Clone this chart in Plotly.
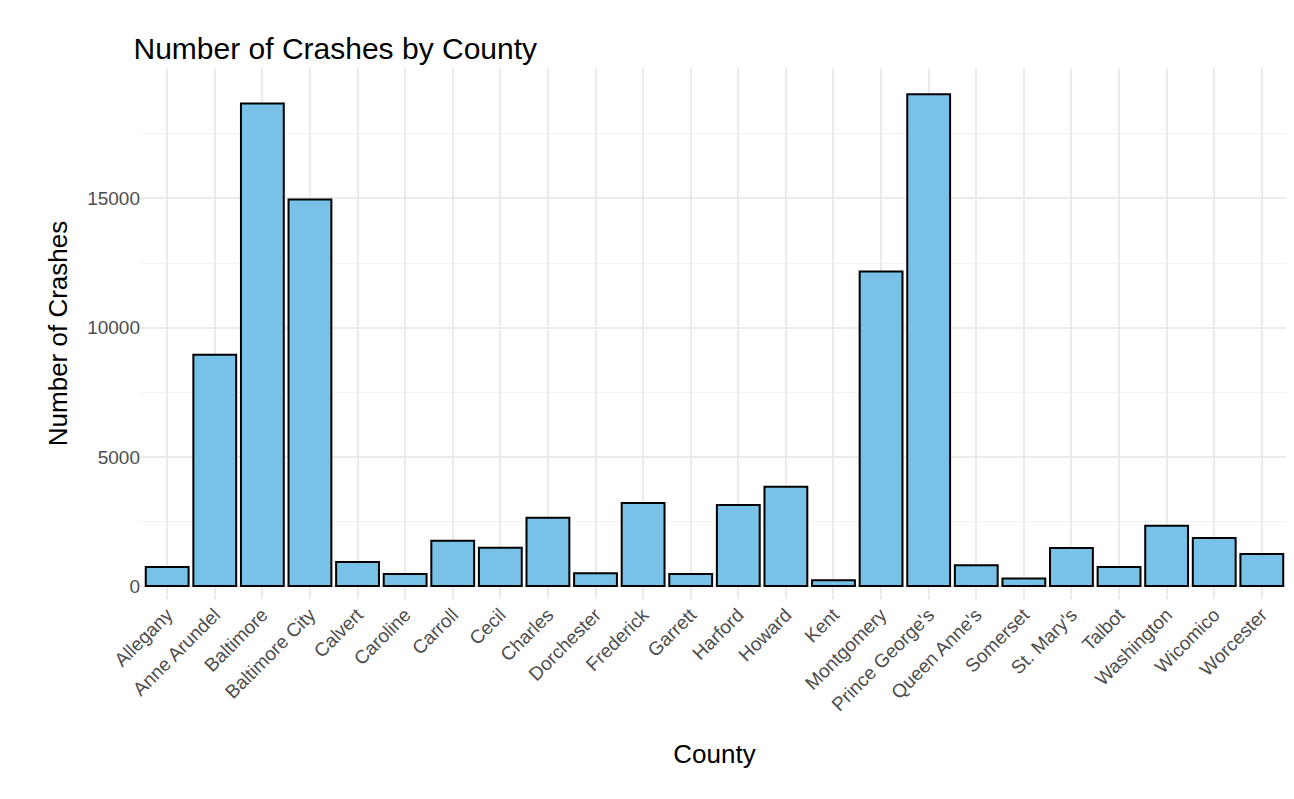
import plotly.graph_objects as go

counties = ["Allegany", "Anne Arundel", "Baltimore", "Baltimore City", "Calvert", "Caroline",
            "Carroll", "Cecil", "Charles", "Dorchester", "Frederick", "Garrett", "Harford",
            "Howard", "Kent", "Montgomery", "Prince George's", "Queen Anne's", "Somerset",
            "St. Mary's", "Talbot", "Washington", "Wicomico", "Worcester"]
crashes = [740, 8950, 18680, 14960, 930, 470, 1750, 1480, 2640, 500, 3220, 470, 3140,
           3840, 230, 12170, 19030, 810, 290, 1470, 740, 2330, 1860, 1240]
y_ticks = [0, 5000, 10000, 15000]
y_tick_labels = ["0", "5000", "10000", "15000"]

fig = go.Figure(go.Bar(
    x=counties, y=crashes, width=0.9,
    marker=dict(color="#77C2E6", line=dict(color="black", width=2)),
))

fig.update_layout(
    width=1294, height=799,
    paper_bgcolor="white", plot_bgcolor="white",
    font=dict(family="Liberation Sans, Arial", color="black"),
    title=dict(text="Number of Crashes by County", x=0.097, y=0.962,
               xanchor="left", font=dict(size=30)),
    margin=dict(l=133, r=14, t=60, b=208),
    showlegend=False,
    bargap=0.1,
)
fig.update_xaxes(
    title=dict(text="County", font=dict(size=26), standoff=30),
    tickangle=-45, tickfont=dict(size=19, color="#4D4D4D"),
    showgrid=True, gridcolor="#EBEBEB", gridwidth=2,
    range=[-0.55, 23.55], zeroline=False, ticks="",
)
fig.update_yaxes(
    title=dict(text="Number of Crashes", font=dict(size=26), standoff=12),
    tickvals=y_ticks, ticktext=y_tick_labels, tickfont=dict(size=19, color="#4D4D4D"),
    showgrid=True, gridcolor="#EBEBEB", gridwidth=2,
    minor=dict(tickvals=[2500, 7500, 12500, 17500], showgrid=True,
               gridcolor="#F2F2F2", gridwidth=1),
    range=[-500, 20050], zeroline=False,
)

fig.write_html("out.html")
